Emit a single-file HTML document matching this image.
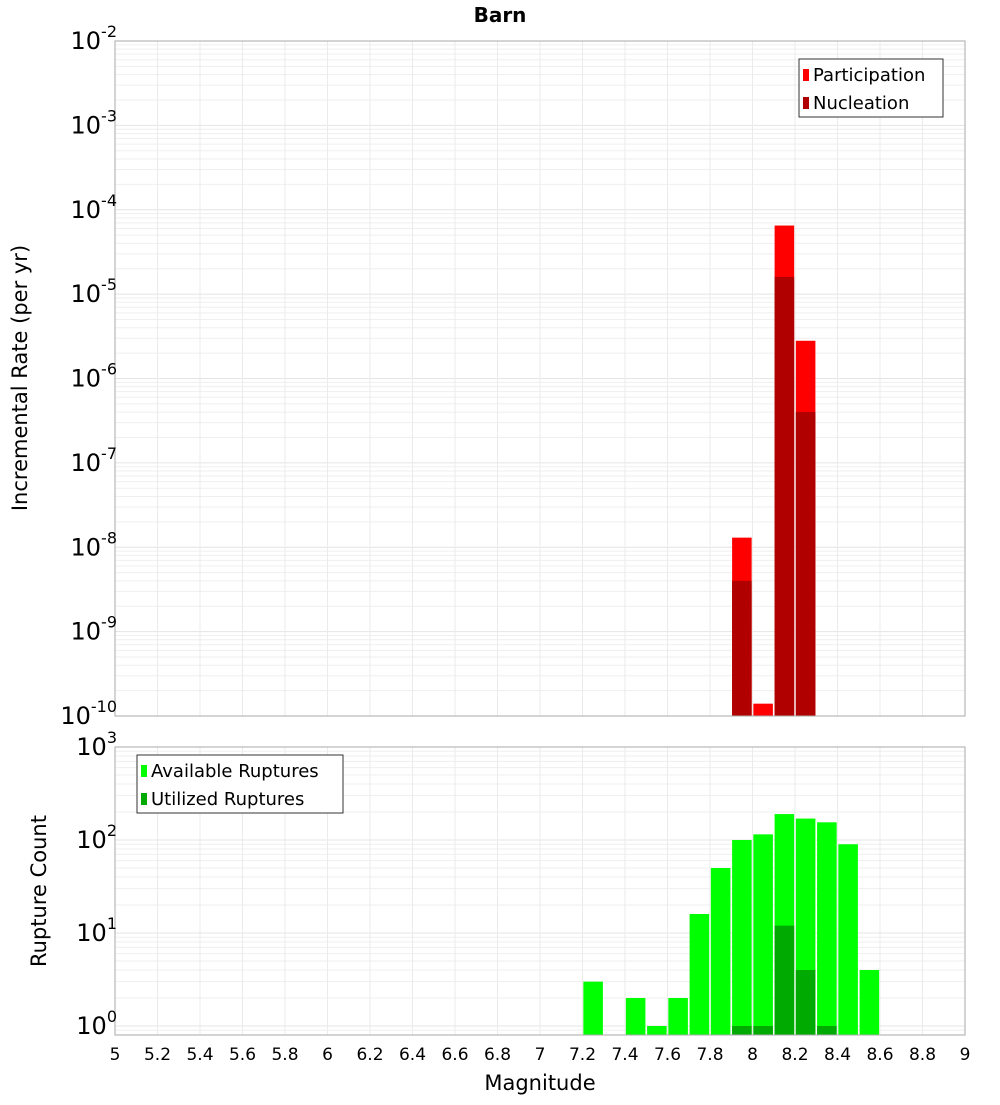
<!DOCTYPE html>
<html><head><meta charset="utf-8"><style>
body{margin:0;background:#fff;font-family:"Liberation Sans","DejaVu Sans",sans-serif}
</style></head><body>
<svg id="c" width="1000" height="1100" xmlns="http://www.w3.org/2000/svg" font-family="DejaVu Sans, Liberation Sans, sans-serif"></svg>
<script>
const mags=[7.25,7.45,7.55,7.65,7.75,7.85,7.95,8.05,8.15,8.25,8.35,8.45,8.55];
const available=[3,2,1,2,16,50,100,115,190,170,155,90,4];
const utilized=[0,0,0,0,0,0,1,1,12,4,1,0,0];
const rateMags=[7.95,8.05,8.15,8.25];
const participation=[1.3e-8,1.4e-10,6.5e-5,2.8e-6];
const nucleation=[4e-9,0,1.6e-5,4e-7];
const xTicks=["5","5.2","5.4","5.6","5.8","6","6.2","6.4","6.6","6.8","7","7.2","7.4","7.6","7.8","8","8.2","8.4","8.6","8.8","9"];
const NS="http://www.w3.org/2000/svg",svg=document.getElementById('c');
function el(t,a,p){const e=document.createElementNS(NS,t);for(const k in a)e.setAttribute(k,a[k]);(p||svg).appendChild(e);return e;}
const L=115,R=965;
const X=m=>L+(m-5)/4*(R-L);
const T1=41,B1=716,Y1=v=>T1+(-2-Math.log10(v))*(B1-T1)/8;
const T2=747,B2=1035,Y2=v=>1026-Math.log10(v)*93;
function grid(T,B,Yf,dmin,dmax){
 for(let d=dmin;d<dmax;d++)for(let k=1;k<10;k++){const y=Yf(k*Math.pow(10,d));if(y<T||y>B)continue;
  const g=el('line',{x1:L,x2:R,y1:y,y2:y,stroke:k==1?'#e4e4e4':'#efefef','stroke-width':1});}
 xTicks.forEach(t=>{const x=X(+t);const g=el('line',{x1:x,x2:x,y1:T,y2:B,stroke:'#ebebeb'});});
}
grid(T1,B1,Y1,-10,-2);grid(T2,B2,Y2,-1,3);
const bw=(X(5.1)-X(5))*0.92;
// top bars
rateMags.forEach((m,i)=>{
 const x=X(m)-bw/2;
 if(participation[i]>0){const r=el('rect',{x:x,y:Y1(participation[i]),width:bw,height:B1-Y1(participation[i]),fill:'#ff0000'});}
 if(nucleation[i]>0){const r=el('rect',{x:x,y:Y1(nucleation[i]),width:bw,height:B1-Y1(nucleation[i]),fill:'#b00000'});}
});
mags.forEach((m,i)=>{
 const x=X(m)-bw/2;
 const r=el('rect',{x:x,y:Y2(available[i]),width:bw,height:B2-Y2(available[i]),fill:'#00ff00'});
 if(utilized[i]>0){const u=el('rect',{x:x,y:Y2(utilized[i]),width:bw,height:B2-Y2(utilized[i]),fill:'#00aa00'});}
});
// frames
[[T1,B1],[T2,B2]].forEach(([t,b])=>{const f=el('rect',{x:L,y:t,width:R-L,height:b-t,fill:'none',stroke:'#aaa'});});
function sup(x,y,e,name){const t=el('text',{x:x,y:y,'font-size':24,'text-anchor':'end',fill:'#000'});
 t.innerHTML='10<tspan dy="-12" font-size="16">'+e+'</tspan>';}
for(let d=-10;d<=-2;d++)sup(117,Y1(Math.pow(10,d))+8,d,'y-tick-label');
for(let d=0;d<=3;d++)sup(117,Y2(Math.pow(10,d))+8,d,'y-tick-label');
xTicks.forEach(t=>{const x=X(+t);const g=el('text',{x:x,y:1060,'font-size':17,'text-anchor':'middle'});g.textContent=t;});
let tt=el('text',{x:500,y:22,'font-size':20,'font-weight':'bold','text-anchor':'middle'});tt.textContent='Barn';
tt=el('text',{x:540,y:1090,'font-size':21,'text-anchor':'middle'});tt.textContent='Magnitude';
tt=el('text',{x:0,y:0,'font-size':21,'text-anchor':'middle',transform:'translate(27,378) rotate(-90)'});tt.textContent='Incremental Rate (per yr)';
tt=el('text',{x:0,y:0,'font-size':21,'text-anchor':'middle',transform:'translate(46,891) rotate(-90)'});tt.textContent='Rupture Count';
function legend(x,y,w,items,name){const g=el('g',{});
 el('rect',{x:x,y:y,width:w,height:58,fill:'#fff',stroke:'#333'},g);
 items.forEach(([c,l],i)=>{el('rect',{x:x+4,y:y+10+i*28,width:6,height:12,fill:c},g);const t=el('text',{x:x+14,y:y+22+i*28,'font-size':18},g);t.textContent=l;});}
legend(799,59,144,[['#ff0000','Participation'],['#b00000','Nucleation']],'legend-top');
legend(137,755,206,[['#00ff00','Available Ruptures'],['#00aa00','Utilized Ruptures']],'legend-bottom');
</script>
</body></html>
